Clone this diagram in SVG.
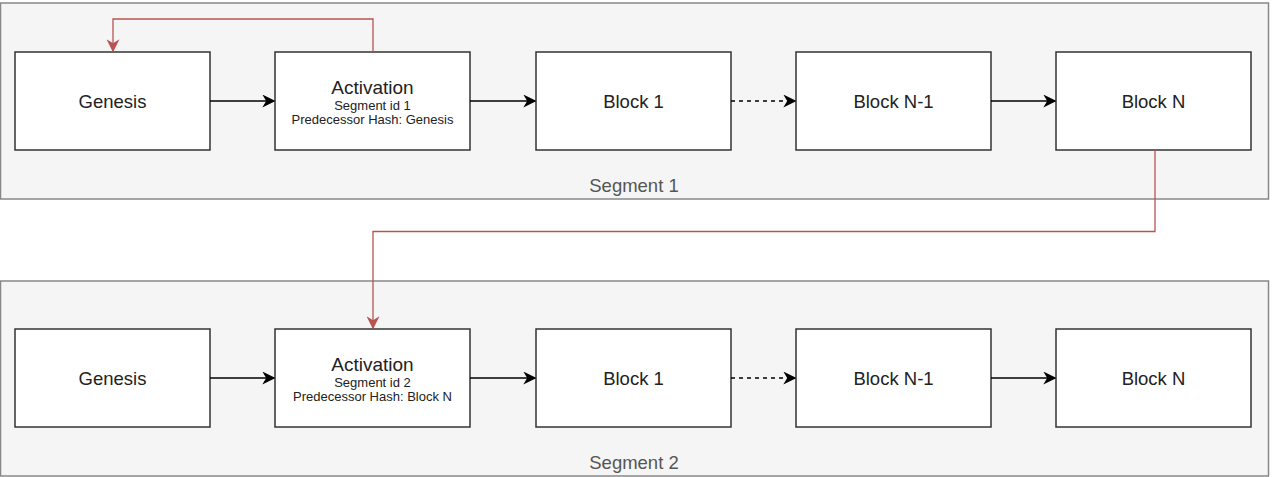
<svg xmlns="http://www.w3.org/2000/svg" width="1275" height="477" viewBox="0 0 1275 477">
<defs>
<style>
.seg{fill:#f5f5f5;stroke:#888;stroke-width:1.5}
.box{fill:#fff;stroke:#333;stroke-width:1.5}
.t{font-family:"Liberation Sans",Arial,sans-serif;fill:#222;text-anchor:middle;font-size:18.5px}
.s{font-size:13px}
.h{font-size:19px}
.lbl{font-family:"Liberation Sans",Arial,sans-serif;fill:#555;text-anchor:middle;font-size:18.5px}
.e{fill:none;stroke:#000;stroke-width:1.5}
.d{stroke-dasharray:4 4}
.r{fill:none;stroke:#b85450;stroke-width:1.3}
</style>
<marker id="ab" viewBox="0 0 10 10" refX="9" refY="5" markerWidth="13" markerHeight="13" markerUnits="userSpaceOnUse" orient="auto"><path d="M0,0 L10,5 L0,10 L3,5 Z" fill="#000"/></marker>
<marker id="ar" viewBox="0 0 10 10" refX="9" refY="5" markerWidth="13" markerHeight="13" markerUnits="userSpaceOnUse" orient="auto"><path d="M0,0 L10,5 L0,10 L3,5 Z" fill="#b85450"/></marker>
</defs>
<g id="segment1"><rect class="seg" x="0.5" y="3" width="1268" height="196"/><text class="lbl" x="634" y="192">Segment 1</text></g>
<g id="segment2"><rect class="seg" x="0.5" y="281" width="1268" height="195"/><text class="lbl" x="634" y="469">Segment 2</text></g>
<g id="s1-genesis"><rect class="box" x="15" y="52" width="195" height="98"/><text class="t" x="112.5" y="108">Genesis</text></g>
<g id="s1-activation"><rect class="box" x="275" y="52" width="195" height="98"/><text class="t h" x="372.5" y="94">Activation</text><text class="t s" x="372.5" y="110">Segment id 1</text><text class="t s" x="372.5" y="124">Predecessor Hash: Genesis</text></g>
<g id="s1-block1"><rect class="box" x="536" y="52" width="195" height="98"/><text class="t" x="633.5" y="108">Block 1</text></g>
<g id="s1-blockn1"><rect class="box" x="796" y="52" width="195" height="98"/><text class="t" x="893.5" y="108">Block N-1</text></g>
<g id="s1-blockn"><rect class="box" x="1056" y="52" width="195" height="98"/><text class="t" x="1153.5" y="108">Block N</text></g>
<g id="s2-genesis"><rect class="box" x="15" y="329" width="195" height="98"/><text class="t" x="112.5" y="385">Genesis</text></g>
<g id="s2-activation"><rect class="box" x="275" y="329" width="195" height="98"/><text class="t h" x="372.5" y="371">Activation</text><text class="t s" x="372.5" y="387">Segment id 2</text><text class="t s" x="372.5" y="401">Predecessor Hash: Block N</text></g>
<g id="s2-block1"><rect class="box" x="536" y="329" width="195" height="98"/><text class="t" x="633.5" y="385">Block 1</text></g>
<g id="s2-blockn1"><rect class="box" x="796" y="329" width="195" height="98"/><text class="t" x="893.5" y="385">Block N-1</text></g>
<g id="s2-blockn"><rect class="box" x="1056" y="329" width="195" height="98"/><text class="t" x="1153.5" y="385">Block N</text></g>
<g id="connectors">
<path class="e" d="M210,101 H274" marker-end="url(#ab)"/>
<path class="e" d="M470,101 H535" marker-end="url(#ab)"/>
<path class="e d" d="M731,101 H795" marker-end="url(#ab)"/>
<path class="e" d="M991,101 H1055" marker-end="url(#ab)"/>
<path class="e" d="M210,378 H274" marker-end="url(#ab)"/>
<path class="e" d="M470,378 H535" marker-end="url(#ab)"/>
<path class="e d" d="M731,378 H795" marker-end="url(#ab)"/>
<path class="e" d="M991,378 H1055" marker-end="url(#ab)"/>
<path class="r" d="M373,52 V19 H113 V51" marker-end="url(#ar)"/>
<path class="r" d="M1155,150 V231.5 H373 V328" marker-end="url(#ar)"/>
</g>
</svg>
